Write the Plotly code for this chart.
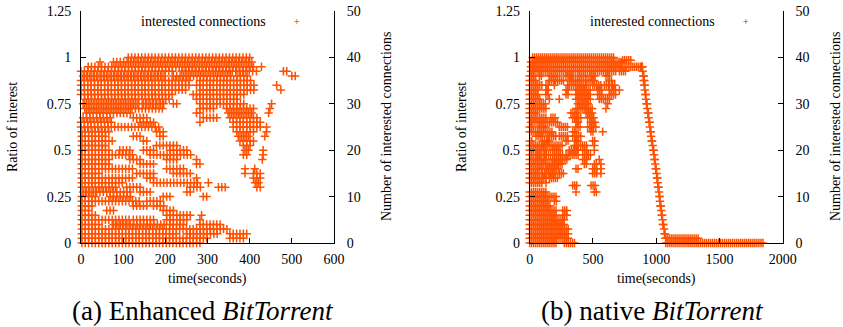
import numpy as np
import plotly.graph_objects as go

ORANGE = "#ff5000"
FONT = "Liberation Serif"

# ---------------- Panel (a): Enhanced BitTorrent ----------------
# ratio-of-interest level and the time runs (seconds) during which samples sit at that level
enh_ratio = [1.0, 0.975, 0.95, 0.925, 0.9, 0.875, 0.85, 0.825, 0.8, 0.775,
             0.75, 0.725, 0.7, 0.675, 0.65, 0.625, 0.6, 0.575, 0.55, 0.525,
             0.5, 0.475, 0.45, 0.425, 0.4, 0.375, 0.35, 0.325, 0.3, 0.275,
             0.25, 0.225, 0.2, 0.175, 0.15, 0.125, 0.1, 0.075, 0.05, 0.025, 0.0]
enh_runs = [
    [(112, 405)],
    [(45, 50), (77, 409)],
    [(17, 409), (428, 428)],
    [(0, 219), (239, 409), (416, 416), (480, 495)],
    [(5, 203), (219, 361), (370, 400), (500, 508)],
    [(0, 262), (282, 409)],
    [(0, 262), (274, 417), (464, 470)],
    [(0, 251), (282, 417), (474, 480)],
    [(0, 219), (266, 393)],
    [(9, 211), (274, 377)],
    [(5, 140), (148, 203), (219, 227), (282, 393), (452, 452)],
    [(9, 195), (282, 314), (345, 409), (448, 448)],
    [(13, 124), (274, 282), (349, 409), (445, 445)],
    [(5, 69), (124, 156), (290, 322), (353, 417)],
    [(0, 77), (140, 179), (282, 282), (361, 425)],
    [(0, 187), (361, 425), (440, 440)],
    [(2, 69), (179, 195), (369, 409), (440, 440)],
    [(2, 61), (124, 140), (187, 195), (373, 401), (436, 436)],
    [(2, 77), (148, 156), (377, 412)],
    [(2, 61), (179, 227), (385, 405)],
    [(2, 69), (92, 116), (148, 179), (211, 251), (389, 397), (432, 432)],
    [(2, 124), (164, 266), (385, 397), (432, 432)],
    [(2, 69), (116, 140), (203, 227), (274, 274), (430, 434)],
    [(2, 69), (140, 179), (274, 282)],
    [(2, 124), (203, 243), (389, 389), (412, 412)],
    [(2, 45), (132, 179), (219, 266), (389, 389), (409, 428)],
    [(2, 124), (156, 179), (274, 274), (409, 425)],
    [(2, 100), (172, 282), (302, 302), (413, 428)],
    [(2, 85), (108, 140), (259, 290), (326, 349), (417, 425)],
    [(5, 124), (140, 164), (251, 259)],
    [(2, 37), (69, 124), (195, 211), (290, 298)],
    [(2, 140), (156, 195)],
    [(2, 29), (124, 156), (172, 203)],
    [(2, 21), (61, 77), (195, 219)],
    [(2, 37), (203, 266), (286, 286)],
    [(2, 116), (124, 172), (203, 251), (282, 282)],
    [(2, 45), (77, 203), (211, 243), (282, 337)],
    [(2, 353)],
    [(2, 227), (251, 330), (353, 397)],
    [(2, 298), (353, 385)],
    [(2, 282)],
]
enh_period = 8  # seconds between samples

# ---------------- Panel (b): native BitTorrent ----------------
nat_ratio = [1.0, 0.985, 0.975, 0.95, 0.925, 0.9, 0.875, 0.85, 0.825, 0.8,
             0.775, 0.75, 0.725, 0.7, 0.675, 0.65, 0.625, 0.6, 0.575, 0.55,
             0.525, 0.5, 0.475, 0.45, 0.425, 0.4, 0.375, 0.35, 0.325, 0.31,
             0.275, 0.25, 0.225, 0.2, 0.175, 0.15, 0.125, 0.1, 0.075, 0.05,
             0.025, 0.0]
nat_runs = [
    [(23, 669)],
    [(735, 814)],
    [(10, 735)],
    [(10, 900)],
    [(10, 420), (440, 680), (709, 761)],
    [(0, 40), (76, 103), (155, 234), (287, 340), (392, 445), (485, 524), (603, 630)],
    [(0, 50), (155, 274), (313, 419), (445, 524), (630, 656)],
    [(0, 103), (129, 155), (195, 208), (300, 445), (498, 563), (590, 630), (656, 682)],
    [(0, 76), (129, 155), (287, 313), (366, 484), (537, 577), (630, 682), (709, 709)],
    [(0, 76), (129, 155), (287, 313), (366, 484), (537, 577), (630, 682)],
    [(0, 90), (155, 155), (234, 234), (366, 484), (550, 630)],
    [(0, 50), (76, 129), (380, 471), (616, 616)],
    [(0, 129), (366, 498), (603, 603)],
    [(0, 50), (326, 380), (445, 498)],
    [(0, 129), (168, 208), (340, 406), (458, 511)],
    [(10, 221), (366, 392), (484, 524)],
    [(0, 23), (76, 129), (234, 300), (366, 406), (458, 524)],
    [(0, 182), (340, 366), (484, 511), (577, 577)],
    [(50, 103), (142, 208), (234, 313), (340, 419)],
    [(0, 23), (103, 155), (287, 313), (366, 392), (498, 524)],
    [(0, 261), (353, 458), (511, 511)],
    [(0, 129), (182, 234), (313, 380), (419, 458), (511, 524)],
    [(0, 23), (50, 90), (116, 274), (287, 392), (432, 484)],
    [(0, 129), (182, 300), (419, 458), (550, 550)],
    [(0, 261), (432, 458), (511, 537), (563, 563)],
    [(0, 103), (129, 234), (366, 392), (498, 537), (563, 563)],
    [(0, 76), (103, 208), (234, 274), (498, 537), (563, 563)],
    [(0, 129), (155, 234)],
    [(0, 103), (129, 129)],
    [(340, 380), (485, 524)],
    [(0, 129), (366, 366), (511, 537)],
    [(0, 221)],
    [(0, 155), (195, 221)],
    [(0, 168)],
    [(0, 221), (261, 300)],
    [(0, 221), (261, 300)],
    [(0, 287)],
    [(0, 274)],
    [(0, 313)],
    [(0, 313)],
    [(0, 313), (1076, 1346)],
    [(0, 221), (274, 366), (1076, 1852)],
]
nat_period = 16  # seconds between samples

# the final decline of native BitTorrent, individual samples
nat_tail_t = [884, 890, 893, 898, 902, 900, 906, 905, 910, 910, 914, 918, 919,
              923, 928, 930, 934, 938, 940, 944, 948, 950, 954, 958, 960, 964,
              968, 972, 976, 980, 983, 986, 990, 992, 996, 1000, 1003, 1006,
              1010, 1012, 1015, 1019, 1022, 1025, 1028, 1030, 1033, 1037, 1040,
              1043, 1047, 1050, 1053, 1058, 1062, 1066, 1070, 1074]
nat_tail_ratio = [0.95, 0.95, 0.925, 0.9, 0.9, 0.875, 0.875, 0.85, 0.85, 0.825,
                  0.8, 0.8, 0.775, 0.75, 0.75, 0.725, 0.7, 0.7, 0.675, 0.65,
                  0.65, 0.625, 0.6, 0.6, 0.575, 0.55, 0.55, 0.525, 0.5, 0.5,
                  0.475, 0.45, 0.45, 0.425, 0.4, 0.4, 0.375, 0.35, 0.35, 0.325,
                  0.3, 0.3, 0.275, 0.25, 0.25, 0.225, 0.2, 0.2, 0.175, 0.15,
                  0.15, 0.125, 0.1, 0.1, 0.075, 0.05, 0.05, 0.025]

ratio_ticks = [0, 0.25, 0.5, 0.75, 1, 1.25]
ratio_tick_text = ["0", "0.25", "0.5", "0.75", "1", "1.25"]
count_ticks = [0, 10, 20, 30, 40, 50]
enh_time_ticks = [0, 100, 200, 300, 400, 500, 600]
nat_time_ticks = [0, 500, 1000, 1500, 2000]


def expand(levels, runs, period):
    xs, ys = [], []
    for r, segs in zip(levels, runs):
        for a, b in segs:
            if b > a:
                t = np.arange(a, b + 0.01, period)
            else:
                t = np.array([a])
            xs.extend(t.tolist())
            ys.extend([r] * len(t))
    return xs, ys


ax, ay = expand(enh_ratio, enh_runs, enh_period)
bx, by = expand(nat_ratio, nat_runs, nat_period)
bx += nat_tail_t
by += nat_tail_ratio

W, H = 843, 327


def px(x):
    return x / W


def py(y):
    return 1 - y / H


marker = dict(symbol="cross-thin", size=6, color=ORANGE,
              line=dict(width=1.5, color=ORANGE))

fig = go.Figure()
fig.add_trace(go.Scatter(x=ax, y=ay, mode="markers", marker=marker, cliponaxis=False,
                         xaxis="x", yaxis="y", showlegend=False, hoverinfo="skip"))
fig.add_trace(go.Scatter(x=bx, y=by, mode="markers", marker=marker, cliponaxis=False,
                         xaxis="x2", yaxis="y3", showlegend=False, hoverinfo="skip"))
# empty traces so that the right-hand count axes exist
fig.add_trace(go.Scatter(x=[], y=[], xaxis="x", yaxis="y2", showlegend=False))
fig.add_trace(go.Scatter(x=[], y=[], xaxis="x2", yaxis="y4", showlegend=False))

tickfont = dict(family=FONT, size=14, color="black")
common = dict(showline=True, linecolor="black", linewidth=1, ticks="inside",
              ticklen=5, tickcolor="black", tickwidth=1, showgrid=False,
              zeroline=False, tickfont=tickfont, automargin=False)

ydom = [py(243), py(11)]
fig.update_layout(
    width=W, height=H, margin=dict(l=0, r=0, t=0, b=0, autoexpand=False),
    paper_bgcolor="white", plot_bgcolor="white",
    xaxis=dict(domain=[px(81), px(334)], range=[0, 600], tickvals=enh_time_ticks,
               anchor="y", ticklabelstandoff=3, **common),
    yaxis=dict(domain=ydom, range=[0, 1.25], tickvals=ratio_ticks, ticktext=ratio_tick_text,
               anchor="x", ticklabelstandoff=6, **common),
    yaxis2=dict(range=[0, 50], tickvals=count_ticks, overlaying="y", side="right",
                anchor="x", ticklabelstandoff=9, **common),
    xaxis2=dict(domain=[px(529.7), px(782.7)], range=[0, 2000], tickvals=nat_time_ticks,
                anchor="y3", ticklabelstandoff=3, **common),
    yaxis3=dict(domain=ydom, range=[0, 1.25], tickvals=ratio_ticks, ticktext=ratio_tick_text,
                anchor="x2", ticklabelstandoff=6, **common),
    yaxis4=dict(range=[0, 50], tickvals=count_ticks, overlaying="y3", side="right",
                anchor="x2", ticklabelstandoff=9, **common),
)

ann = []


def add(text, x, y, size=14, angle=0, xanchor="center", color="black"):
    ann.append(dict(text=text, x=px(x), y=py(y), xref="paper", yref="paper",
                    showarrow=False, textangle=angle, xanchor=xanchor, yanchor="middle",
                    font=dict(family=FONT, size=size, color=color)))


for (cx, lx, rx, legx, plus, cap) in [
    (207, 12, 386, 268, 297, "(a) Enhanced <i>BitTorrent</i>"),
    (656, 461, 835, 717, 746, "(b) native <i>BitTorrent</i>"),
]:
    add("Ratio of interest", lx, 127, angle=-90)
    add("Number of interested connections", rx, 127, angle=-90)
    add("time(seconds)", cx, 279)
    add("interested connections", legx, 22, xanchor="right")
    add("<b>+</b>", plus, 22, size=10, color=ORANGE)
    add(cap, cx - 4, 311, size=27)

fig.update_layout(annotations=ann)
fig.write_html("out.html", config={"displayModeBar": False},
               post_script="document.body.style.margin='0';document.body.style.padding='0';")
